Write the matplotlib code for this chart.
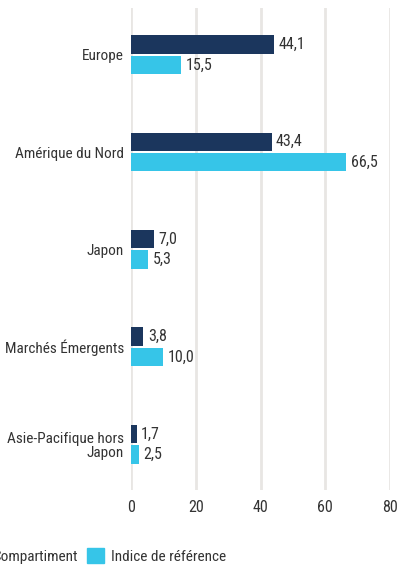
import numpy as np
import matplotlib
matplotlib.use('Agg')
import matplotlib.pyplot as plt
from matplotlib.patches import Patch

categories = ['Europe', 'Amérique du Nord', 'Japon', 'Marchés Émergents', 'Asie-Pacifique hors\nJapon']
compartiment = [44.1, 43.4, 7.0, 3.8, 1.7]
indice = [15.5, 66.5, 5.3, 10.0, 2.5]
series_names = ['Compartiment', 'Indice de référence']
xticks = [0, 20, 40, 60, 80]

dark = '#1B365D'
light = '#36C5E8'
txt = '#333333'

plt.rcParams['font.family'] = ['Roboto Condensed', 'DejaVu Sans']
plt.rcParams['font.stretch'] = 'condensed'
fs = 11

fig = plt.figure(figsize=(4, 5.65), dpi=100)
ax = fig.add_axes([0.3275, 0.133, 0.6475, 0.853])

y = np.arange(len(categories))
h = 0.19
off = 0.105
ax.barh(y - off, compartiment, height=h, color=dark, zorder=3)
ax.barh(y + off, indice, height=h, color=light, zorder=3)

for i in range(len(categories)):
    ax.text(compartiment[i] + 1.4, y[i] - off, ('%.1f' % compartiment[i]).replace('.', ','),
            va='center', ha='left', fontsize=fs + 0.5, color=txt)
    ax.text(indice[i] + 1.4, y[i] + off, ('%.1f' % indice[i]).replace('.', ','),
            va='center', ha='left', fontsize=fs + 0.5, color=txt)

ax.set_xlim(0, 80)
ax.set_ylim(len(categories) - 0.53, -0.48)
ax.set_xticks(xticks)
ax.set_xticklabels([str(t) for t in xticks], fontsize=fs + 0.5, color=txt)
ax.set_yticks(y)
ax.set_yticklabels(categories, fontsize=fs, color=txt, linespacing=1.0)
ax.tick_params(length=0, pad=5)
ax.tick_params(axis='x', pad=7)
ax.grid(axis='x', color='#e8e6e3', linewidth=2, zorder=0)
for s in ax.spines.values():
    s.set_visible(False)

handles = [Patch(color=dark), Patch(color=light)]
fig.legend(handles, series_names, loc='center left', bbox_to_anchor=(-0.115, 0.016),
           ncol=2, frameon=False, fontsize=fs, handlelength=1.1, handleheight=1.1,
           handletextpad=0.5, columnspacing=0.6, labelcolor=txt)

fig.savefig('out.png', dpi=100)
